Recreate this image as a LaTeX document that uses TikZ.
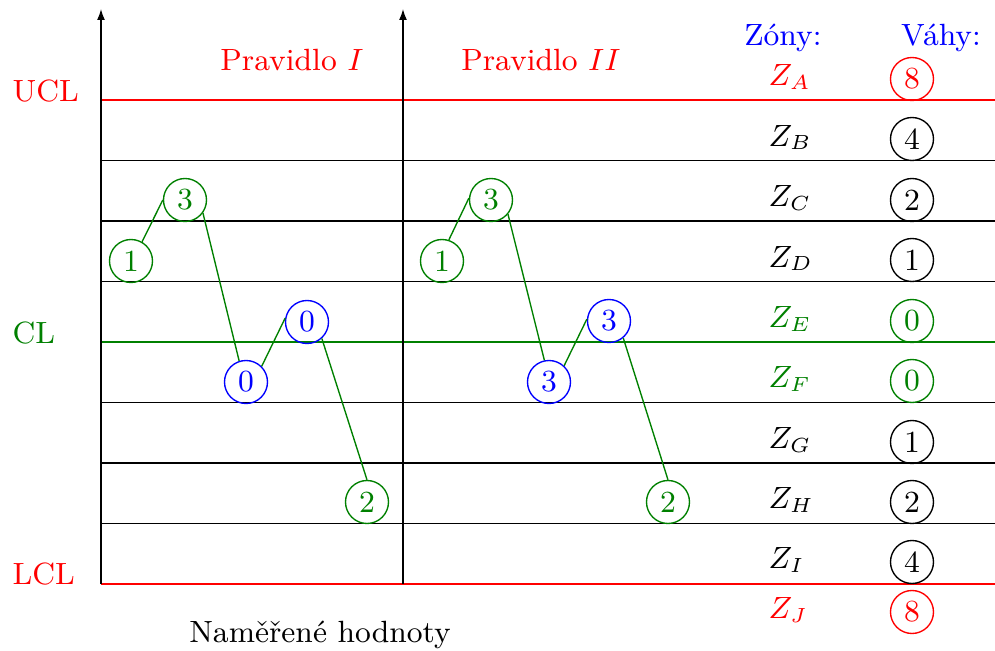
\documentclass[tikz,border=0pt]{standalone}
\usetikzlibrary{arrows.meta}
\colorlet{cgreen}{green!50!black}
\begin{document}
\begin{tikzpicture}[x=0.293pt,y=-0.293pt,
  every node/.style={font=\fontsize{9}{10.8}\selectfont},
  circ/.style={circle,draw,inner sep=0pt,minimum size=12.6pt},
  gcirc/.style={circ,cgreen,text=cgreen},
  bcirc/.style={circ,blue,text=blue},
  conn/.style={cgreen,line width=0.4pt},
  lab/.style={anchor=base west,inner sep=0pt},
  ctr/.style={anchor=base,inner sep=0pt},
  axisline/.style={-{Latex[length=3.2pt,width=2.3pt]}},
]
\useasboundingbox (0,0) rectangle (995,651);

% horizontal lines
\foreach \yy/\cc [count=\i] in {100/red,160.5/black,221/black,281.5/black,342/cgreen,402.5/black,463/black,523.5/black,584/red}{
  \coordinate (hl\i) at (101,\yy);
  \coordinate (hr\i) at (995,\yy);
  \draw[\cc] (hl\i) -- (hr\i);
}

% axes
\coordinate (a1b) at (101,584);
\coordinate (a1t) at (101,9);
\coordinate (a2b) at (403,584);
\coordinate (a2t) at (403,9);
\draw[axisline] (a1b) -- (a1t);
\draw[axisline] (a2b) -- (a2t);

% left labels
\node[lab,red] (ucl) at (12,101) {UCL};
\node[lab,cgreen] (cl) at (12,343) {CL};
\node[lab,red] (lcl) at (12,585) {LCL};

% titles
\node[ctr,red] (p1) at (292,70) {Pravidlo $I$};
\node[ctr,red] (p2) at (541,70) {Pravidlo $II$};
\node[ctr,blue] (zh) at (783,45) {Zóny:};
\node[ctr,blue] (vh) at (941,45) {Váhy:};
\node[ctr] (nh) at (320,643) {Naměřené hodnoty};

% zones and weights
\foreach \zz/\yy/\cc/\ww in {A/79/red/8,B/139/black/4,C/200/black/2,D/260/black/1,E/321/cgreen/0,F/381/cgreen/0,G/442/black/1,H/502/black/2,I/562/black/4,J/612/red/8}{
  \node[lab,\cc] (z\zz) at (768,\yy+7) {$Z_{\zz}$};
  \node[circ,\cc,text=\cc] (w\zz) at (912,\yy) {\ww};
}

% rule I
\node[gcirc] (a1) at (131,261) {1};
\node[gcirc] (a2) at (185,200) {3};
\node[bcirc] (a3) at (246,382) {0};
\node[bcirc] (a4) at (307,322) {0};
\node[gcirc] (a5) at (367,502) {2};
\draw[conn] (a1.60) -- (a2.west);
\draw[conn] (a2.-36) -- (a3.108);
\draw[conn] (a3.45) -- (a4.170);
\draw[conn] (a4.-48) -- (a5.north);

% rule II
\node[gcirc] (b1) at (442,261) {1};
\node[gcirc] (b2) at (491,200) {3};
\node[bcirc] (b3) at (549,382) {3};
\node[bcirc] (b4) at (609,321) {3};
\node[gcirc] (b5) at (668,502) {2};
\draw[conn] (b1.72) -- (b2.175);
\draw[conn] (b2.-40) -- (b3.102);
\draw[conn] (b3.47) -- (b4.175);
\draw[conn] (b4.-50) -- (b5.north);
\end{tikzpicture}
\end{document}
